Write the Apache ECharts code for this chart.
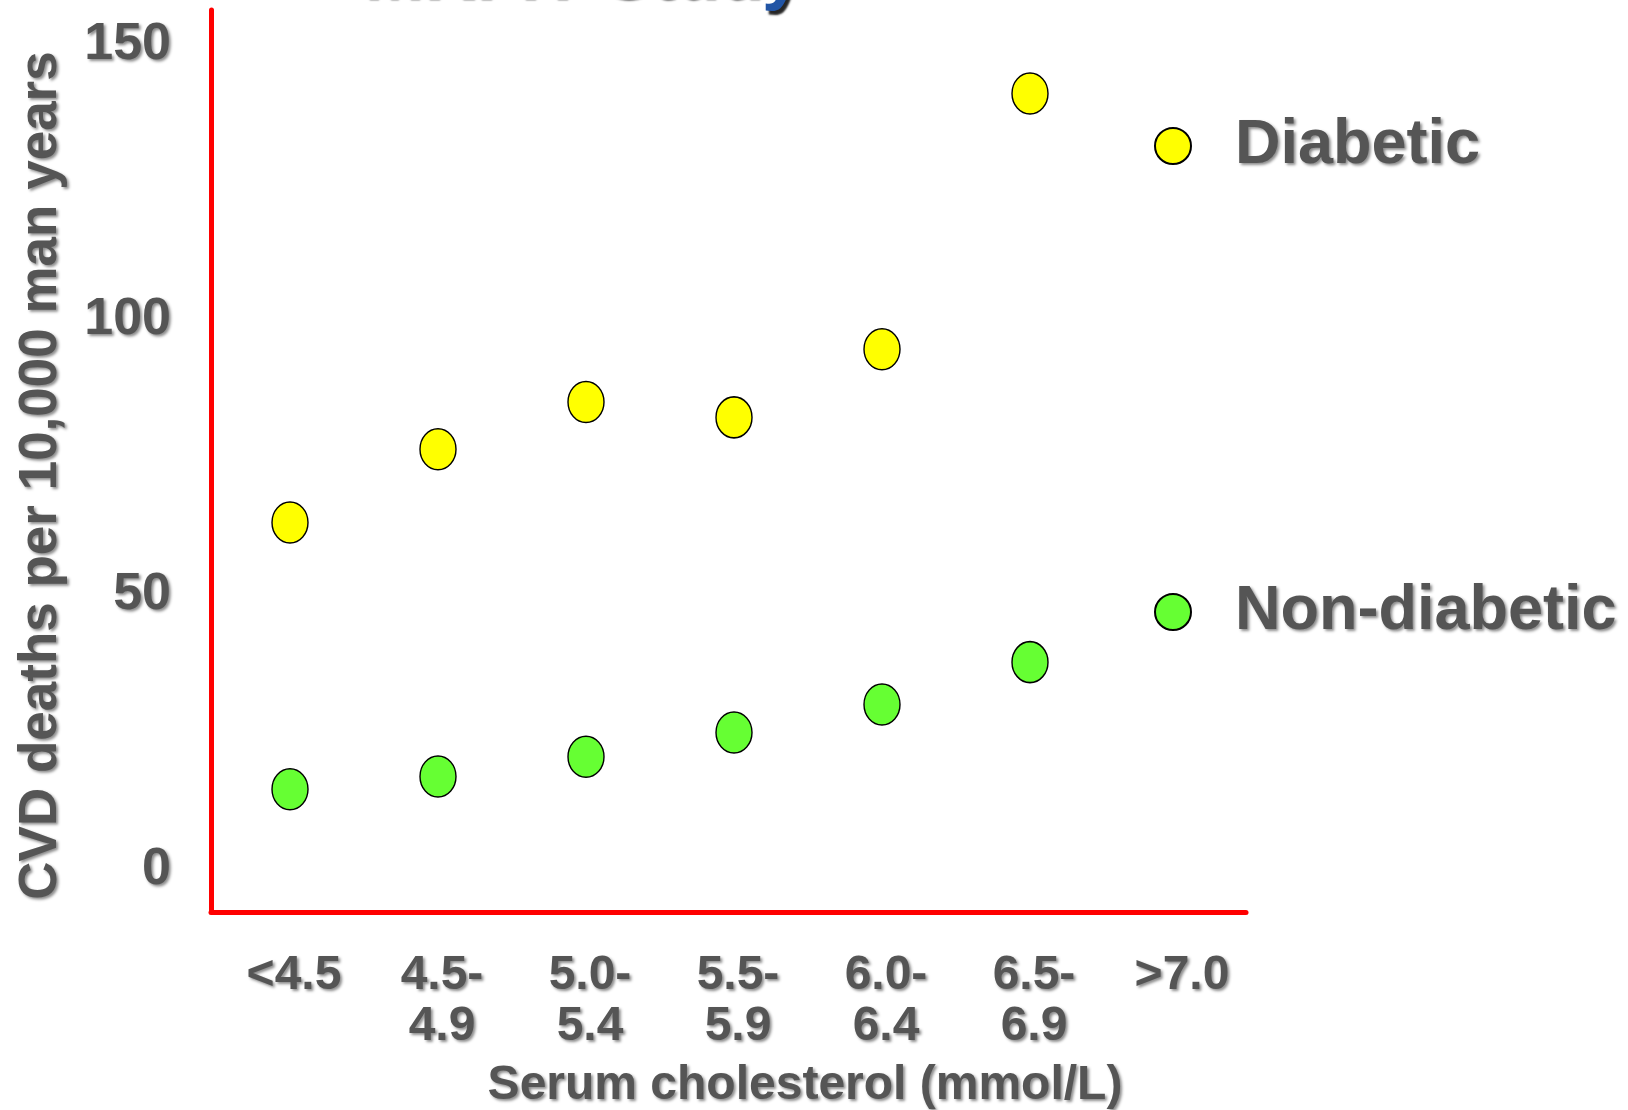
<!DOCTYPE html>
<html>
<head>
<meta charset="utf-8">
<style>
  html, body { margin: 0; padding: 0; background: #ffffff; }
  #chart { width: 1628px; height: 1110px; }
</style>
<script src="https://cdn.jsdelivr.net/npm/echarts@6/dist/echarts.min.js"></script>
</head>
<body>
<div id="chart"></div>
<script>
// ---- data ----
const categories = ['<4.5', '4.5-\n4.9', '5.0-\n5.4', '5.5-\n5.9', '6.0-\n6.4', '6.5-\n6.9', '>7.0'];
const diabetic = [63.1, 76.4, 85.0, 82.2, 94.6, 141.1, '-'];
const nonDiabetic = [14.6, 16.9, 20.5, 24.9, 30.0, 37.7, '-'];
const yTicks = [0, 50, 100, 150];
const seriesNames = ['Diabetic', 'Non-diabetic'];
const titleText = 'MRFIT Study';
const xTitle = 'Serum cholesterol (mmol/L)';
const yTitle = 'CVD deaths per 10,000 man years';

// ---- styling ----
const FONT = "'Liberation Sans', Arial, sans-serif";
const TXT = '#555555';
const shadow = {
  textShadowColor: 'rgba(0,0,0,0.45)',
  textShadowBlur: 3,
  textShadowOffsetX: 2,
  textShadowOffsetY: 2
};
const ellipse = 'path://M0,50 A50,50 0 1,0 100,50 A50,50 0 1,0 0,50 Z';

const chart = echarts.init(document.getElementById('chart'), null, { renderer: 'canvas' });

const legendText = {
  fontFamily: FONT, fontWeight: 'bold', fontSize: 63, color: TXT,
  padding: [10, 0, 0, 39], ...shadow
};

const option = {
  animation: false,
  backgroundColor: '#ffffff',
  grid: [
    { left: 216, top: 44.5, width: 1036, height: 825, containLabel: false, outerBoundsMode: 'none', show: false },
    { left: 211, top: 10, width: 1035, height: 902, containLabel: false, outerBoundsMode: 'none', show: false }
  ],
  xAxis: [
    {
      gridIndex: 0,
      type: 'category',
      data: categories,
      boundaryGap: true,
      axisLine: { show: false },
      axisTick: { show: false },
      splitLine: { show: false },
      axisLabel: {
        interval: 0,
        margin: 80.5,
        fontFamily: FONT,
        fontWeight: 'bold',
        fontSize: 48,
        lineHeight: 51,
        color: TXT,
        align: 'center',
        padding: [0, 0, 0, 8],
        ...shadow
      },
      name: xTitle,
      nameLocation: 'middle',
      nameGap: 192,
      nameMoveOverlap: false,
      nameTextStyle: {
        fontFamily: FONT,
        fontWeight: 'bold',
        fontSize: 48,
        color: TXT,
        padding: [0, 0, 0, 142],
        ...shadow
      }
    },
    {
      gridIndex: 1,
      type: 'value',
      min: 0,
      max: 1,
      axisLine: { show: true, onZero: false, lineStyle: { color: '#ff0000', width: 5 } },
      axisTick: { show: false },
      axisLabel: { show: false },
      splitLine: { show: false }
    }
  ],
  yAxis: [
    {
      gridIndex: 0,
      type: 'value',
      min: yTicks[0],
      max: yTicks[yTicks.length - 1],
      interval: yTicks[1] - yTicks[0],
      axisLine: { show: false },
      axisTick: { show: false },
      splitLine: { show: false },
      axisLabel: {
        margin: 45,
        fontFamily: FONT,
        fontWeight: 'bold',
        fontSize: 52,
        color: TXT,
        padding: [10, 0, 0, 0],
        ...shadow
      }
    },
    {
      gridIndex: 1,
      type: 'value',
      min: 0,
      max: 1,
      axisLine: { show: true, onZero: false, lineStyle: { color: '#ff0000', width: 5 } },
      axisTick: { show: false },
      axisLabel: { show: false },
      splitLine: { show: false }
    }
  ],
  legend: [
    {
      data: [seriesNames[0]],
      orient: 'vertical',
      left: 1149,
      top: 109.5,
      itemWidth: 36,
      itemHeight: 41,
      icon: ellipse,
      selectedMode: false,
      textStyle: legendText
    },
    {
      data: [seriesNames[1]],
      orient: 'vertical',
      left: 1149,
      top: 575.5,
      itemWidth: 36,
      itemHeight: 41,
      icon: ellipse,
      selectedMode: false,
      textStyle: legendText
    }
  ],
  graphic: [
    {
      type: 'text',
      x: 41.5,
      y: 475.5,
      rotation: Math.PI / 2,
      silent: true,
      style: {
        text: yTitle,
        fontFamily: FONT,
        fontWeight: 'bold',
        fontSize: 53,
        fill: TXT,
        align: 'center',
        verticalAlign: 'middle',
        ...shadow
      }
    },
    {
      type: 'text',
      x: 362,
      y: -24,
      silent: true,
      style: {
        text: titleText,
        fontFamily: FONT,
        fontWeight: 'bold',
        fontSize: 72,
        fill: '#2255a5',
        align: 'left',
        verticalAlign: 'middle',
        textShadowColor: 'rgba(0,0,0,0.85)',
        textShadowBlur: 2,
        textShadowOffsetX: 3,
        textShadowOffsetY: 4
      }
    }
  ],
  series: [
    {
      name: seriesNames[0],
      type: 'scatter',
      xAxisIndex: 0,
      yAxisIndex: 0,
      data: diabetic,
      symbol: ellipse,
      symbolSize: [36, 41],
      itemStyle: { color: '#ffff00', borderColor: '#000000', borderWidth: 1.5, opacity: 1 },
      emphasis: { disabled: true }
    },
    {
      name: seriesNames[1],
      type: 'scatter',
      xAxisIndex: 0,
      yAxisIndex: 0,
      data: nonDiabetic,
      symbol: ellipse,
      symbolSize: [36, 41],
      itemStyle: { color: '#66ff33', borderColor: '#000000', borderWidth: 1.5, opacity: 1 },
      emphasis: { disabled: true }
    }
  ]
};

chart.setOption(option);
</script>
</body>
</html>
